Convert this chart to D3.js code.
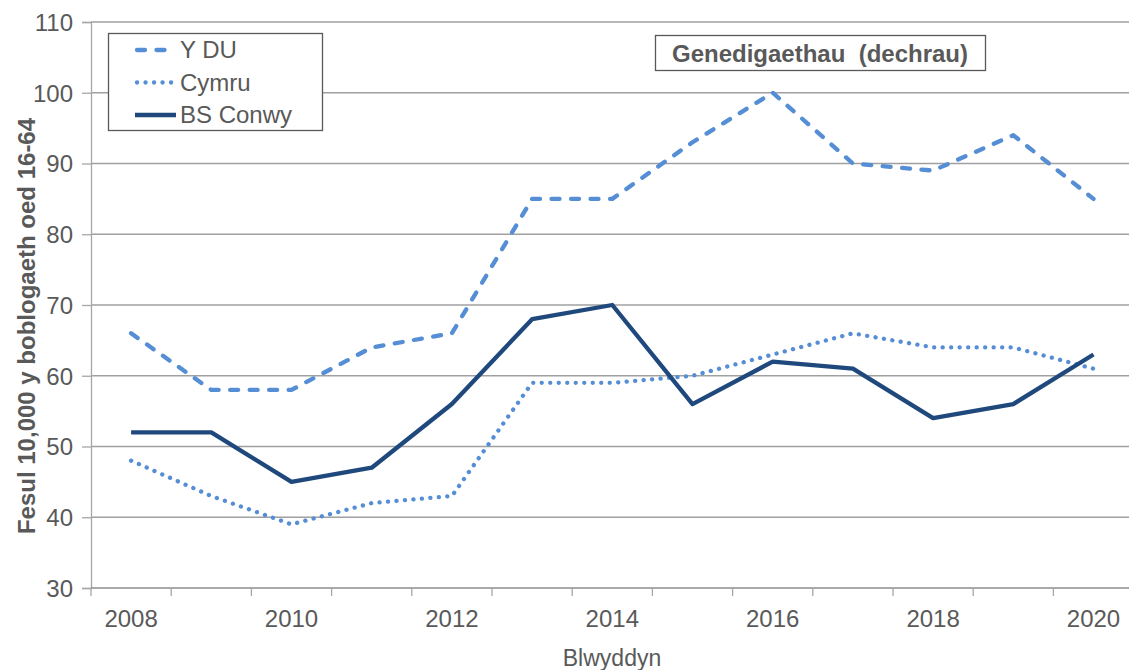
<!DOCTYPE html>
<meta charset="utf-8">
<style>
body { margin: 0; background: #fff; }
text { font-family: "Liberation Sans", Arial, sans-serif; fill: #595959; }
</style>
<svg></svg>
<script src="https://d3js.org/d3.v7.min.js"></script>
<script>

var years = [2008, 2009, 2010, 2011, 2012, 2013, 2014, 2015, 2016, 2017, 2018, 2019, 2020];
var yDU    = [66, 58, 58, 64, 66, 85, 85, 93, 100, 90, 89, 94, 85];
var cymru  = [48, 43, 39, 42, 43, 59, 59, 60, 63, 66, 64, 64, 61];
var conwy  = [52, 52, 45, 47, 56, 68, 70, 56, 62, 61, 54, 56, 63];
var yTicks = [30, 40, 50, 60, 70, 80, 90, 100, 110];
var xLabels = [2008, 2010, 2012, 2014, 2016, 2018, 2020];

var series = [
  { name: "Y DU", values: yDU, color: "#558ed5", dash: "8,11.5", cap: "round" },
  { name: "Cymru", values: cymru, color: "#558ed5", dash: "0.1,8.4", cap: "round" },
  { name: "BS Conwy", values: conwy, color: "#1f497d", dash: null, cap: "butt" }
];

var width = 1129, height = 670;
var plotLeft = 91, plotTop = 22, plotBottom = 588;
var step = 80.2;

var svg = d3.select("svg").attr("width", width).attr("height", height);

var x = d3.scaleBand().domain(years).range([plotLeft, plotLeft + step * years.length]);
var y = d3.scaleLinear().domain([30, 110]).range([plotBottom, plotTop]);

// gridlines
svg.append("g").selectAll("line")
    .data(yTicks.slice(1))
  .enter().append("line")
    .attr("x1", plotLeft).attr("x2", width)
    .attr("y1", function(d) { return y(d); })
    .attr("y2", function(d) { return y(d); })
    .attr("stroke", "#a0a0a0")
    .attr("stroke-width", 1.3);

// y axis
var yAxis = svg.append("g").attr("transform", "translate(" + plotLeft + ",0)")
    .call(d3.axisLeft(y).tickValues(yTicks).tickSize(9).tickPadding(9));
yAxis.select(".domain").attr("stroke", "#a6a6a6").attr("stroke-width", 1.3);
yAxis.selectAll(".tick line").attr("stroke", "#a6a6a6").attr("stroke-width", 1.3);
yAxis.selectAll("text").style("font-size", "24px").style("font-family", null)
    .attr("fill", "#595959").attr("dy", "0.35em");

// x axis: category boundaries as ticks
var xg = svg.append("g");
xg.append("line")
    .attr("x1", plotLeft).attr("x2", width)
    .attr("y1", plotBottom).attr("y2", plotBottom)
    .attr("stroke", "#8c8c8c").attr("stroke-width", 1.3);
xg.selectAll("line.tk")
    .data(years)
  .enter().append("line")
    .attr("class", "tk")
    .attr("x1", function(d) { return x(d); })
    .attr("x2", function(d) { return x(d); })
    .attr("y1", plotBottom).attr("y2", plotBottom + 8)
    .attr("stroke", "#a6a6a6").attr("stroke-width", 1.3);
xg.selectAll("text")
    .data(xLabels)
  .enter().append("text")
    .attr("x", function(d) { return x(d) + x.bandwidth() / 2; })
    .attr("y", 627)
    .attr("text-anchor", "middle")
    .style("font-size", "24px")
    .text(function(d) { return d; });

// lines
var line = d3.line()
    .x(function(d, i) { return x(years[i]) + x.bandwidth() / 2; })
    .y(function(d) { return y(d); });

svg.append("g").selectAll("path")
    .data(series)
  .enter().append("path")
    .attr("d", function(d) { return line(d.values); })
    .attr("fill", "none")
    .attr("stroke", function(d) { return d.color; })
    .attr("stroke-width", 4.3)
    .attr("stroke-dasharray", function(d) { return d.dash; })
    .attr("stroke-linecap", function(d) { return d.cap; })
    .attr("stroke-linejoin", "round");

// legend
var legend = svg.append("g");
legend.append("rect")
    .attr("x", 108.5).attr("y", 33.5).attr("width", 214).attr("height", 97)
    .attr("fill", "#fff").attr("stroke", "#595959").attr("stroke-width", 1.3);
var item = legend.selectAll("g.item")
    .data(series)
  .enter().append("g")
    .attr("transform", function(d, i) { return "translate(0," + (50 + i * 32.5) + ")"; });
item.append("line")
    .attr("x1", function(d) { return d.cap == "round" ? 137 : 135; })
    .attr("x2", function(d) { return d.cap == "round" ? 175 : 176; })
    .attr("y1", 0).attr("y2", 0)
    .attr("stroke", function(d) { return d.color; })
    .attr("stroke-width", 4.3)
    .attr("stroke-dasharray", function(d) { return d.dash; })
    .attr("stroke-linecap", function(d) { return d.cap; });
item.append("text")
    .attr("x", 180).attr("y", 0).attr("dy", "0.35em")
    .style("font-size", "24px")
    .text(function(d) { return d.name; });

// title box
svg.append("rect")
    .attr("x", 655.5).attr("y", 35.5).attr("width", 330).attr("height", 35)
    .attr("fill", "#fff").attr("stroke", "#595959").attr("stroke-width", 1.3);
svg.append("text")
    .attr("x", 820).attr("y", 54).attr("dy", "0.35em")
    .attr("text-anchor", "middle")
    .style("font-size", "24px").style("font-weight", "bold")
    .style("white-space", "pre")
    .text("Genedigaethau  (dechrau)");

// axis titles
svg.append("text")
    .attr("transform", "translate(27,326) rotate(-90)")
    .attr("text-anchor", "middle")
    .attr("dy", "0.35em")
    .style("font-size", "24px").style("font-weight", "bold")
    .text("Fesul 10,000 y boblogaeth oed 16-64");

svg.append("text")
    .attr("x", 612).attr("y", 658).attr("dy", "0.35em")
    .attr("text-anchor", "middle")
    .style("font-size", "23px")
    .text("Blwyddyn");

</script>
